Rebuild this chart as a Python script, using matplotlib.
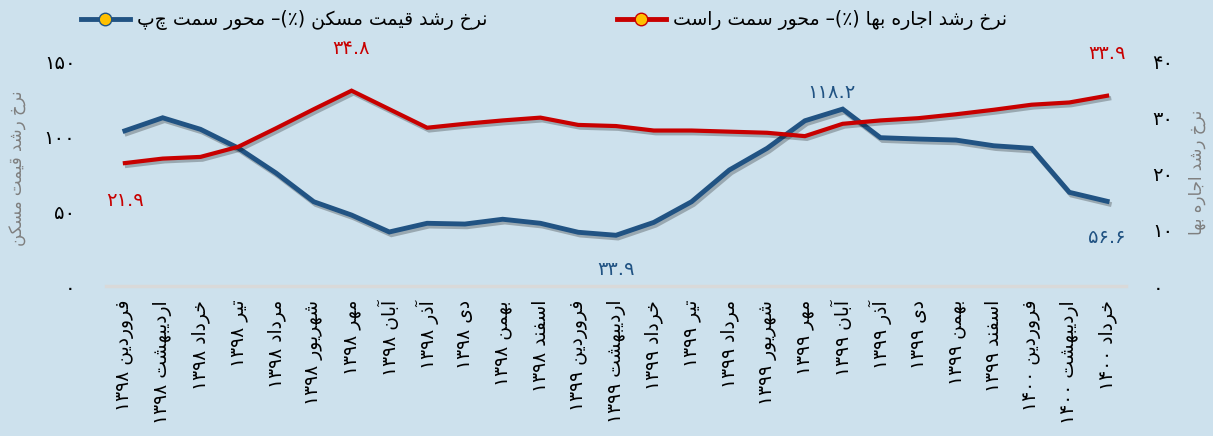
import re
import matplotlib
matplotlib.use('Agg')
import matplotlib.pyplot as plt
import matplotlib.patheffects as pe
from matplotlib.lines import Line2D

plt.rcParams['font.family'] = ['DejaVu Sans']

# داده ها
months = ['فروردین', 'اردیبهشت', 'خرداد', 'تیر', 'مرداد', 'شهریور', 'مهر', 'آبان', 'آذر',
          'دی', 'بهمن', 'اسفند']
years = [1398] * 12 + [1399] * 12 + [1400] * 3
month_idx = list(range(12)) + list(range(12)) + [0, 1, 2]

housing = [103.7, 112.4, 104.7, 92.2, 75.5, 56.3, 47.4, 36.1, 41.9, 41.4, 44.6, 41.9,
           35.9, 33.9, 42.5, 56.3, 77.5, 92.0, 110.4, 118.2, 99.1, 98.2, 97.5, 93.7,
           92.0, 62.6, 56.6]
rent = [21.9, 22.7, 23.0, 24.8, 28.1, 31.5, 34.8, 31.5, 28.2, 28.9, 29.5, 30.0,
        28.7, 28.5, 27.7, 27.7, 27.5, 27.3, 26.7, 28.9, 29.5, 29.9, 30.6, 31.4,
        32.3, 32.7, 33.9]

left_ticks = [0, 50, 100, 150]
right_ticks = [0, 10, 20, 30, 40]

legend_housing = 'نرخ رشد قیمت مسکن (٪)– محور سمت چپ'
legend_rent = 'نرخ رشد اجاره بها (٪)– محور سمت راست'
ylabel_left = 'نرخ رشد قیمت مسکن'
ylabel_right = 'نرخ رشد اجاره بها'

# شکل دادن حروف فارسی (بدون کتابخانه)
FORMS = {
    'ا': ('\uFE8D', '\uFE8E', None, None), 'آ': ('\uFE81', '\uFE82', None, None),
    'ب': ('\uFE8F', '\uFE90', '\uFE91', '\uFE92'), 'ت': ('\uFE95', '\uFE96', '\uFE97', '\uFE98'),
    'ج': ('\uFE9D', '\uFE9E', '\uFE9F', '\uFEA0'), 'ح': ('\uFEA1', '\uFEA2', '\uFEA3', '\uFEA4'),
    'خ': ('\uFEA5', '\uFEA6', '\uFEA7', '\uFEA8'), 'د': ('\uFEA9', '\uFEAA', None, None),
    'ذ': ('\uFEAB', '\uFEAC', None, None), 'ر': ('\uFEAD', '\uFEAE', None, None),
    'ز': ('\uFEAF', '\uFEB0', None, None), 'س': ('\uFEB1', '\uFEB2', '\uFEB3', '\uFEB4'),
    'ش': ('\uFEB5', '\uFEB6', '\uFEB7', '\uFEB8'), 'ف': ('\uFED1', '\uFED2', '\uFED3', '\uFED4'),
    'ق': ('\uFED5', '\uFED6', '\uFED7', '\uFED8'), 'م': ('\uFEE1', '\uFEE2', '\uFEE3', '\uFEE4'),
    'ن': ('\uFEE5', '\uFEE6', '\uFEE7', '\uFEE8'), 'ه': ('\uFEE9', '\uFEEA', '\uFEEB', '\uFEEC'),
    'و': ('\uFEED', '\uFEEE', None, None), 'ی': ('\uFBFC', '\uFBFD', '\uFBFE', '\uFBFF'),
    'ک': ('\uFB8E', '\uFB8F', '\uFB90', '\uFB91'), 'چ': ('\uFB7A', '\uFB7B', '\uFB7C', '\uFB7D'),
}
MIRROR = {'(': ')', ')': '('}
FA_DIGITS = str.maketrans('0123456789', '۰۱۲۳۴۵۶۷۸۹')


def shape(s):
    out = []
    for i, ch in enumerate(s):
        if ch not in FORMS:
            out.append(ch)
            continue
        prev = s[i - 1] if i > 0 else ''
        nxt = s[i + 1] if i + 1 < len(s) else ''
        join_prev = prev in FORMS and FORMS[prev][2] is not None
        join_next = FORMS[ch][2] is not None and nxt in FORMS
        iso, fin, ini, med = FORMS[ch]
        if join_prev and join_next:
            out.append(med)
        elif join_prev:
            out.append(fin)
        elif join_next:
            out.append(ini)
        else:
            out.append(iso)
    return ''.join(out)


def fa(s):
    s = shape(str(s).translate(FA_DIGITS))
    runs = re.findall(r'[۰-۹]+(?:\.[۰-۹]+)?|[^۰-۹]', s)
    return ''.join(MIRROR.get(r, r) for r in reversed(runs))


labels = [fa(months[m] + ' ' + str(y)) for m, y in zip(month_idx, years)]
x = list(range(len(housing)))

bg = '#cde1ed'
blue = '#215383'
red = '#c80000'

fig = plt.figure(figsize=(12.13, 4.36), dpi=100, facecolor=bg)
ax = fig.add_axes([106 / 1213, 1 - 286 / 436, 1020 / 1213, 224.5 / 436])
ax.set_facecolor(bg)
ax2 = ax.twinx()

shadow = [pe.SimpleLineShadow(offset=(1.5, -2), shadow_color='k', alpha=0.25), pe.Normal()]
ax.plot(x, housing, color=blue, lw=3.5, solid_joinstyle='miter', path_effects=shadow, zorder=3)
ax2.plot(x, rent, color=red, lw=3, solid_joinstyle='miter', path_effects=shadow, zorder=3)

ax.set_xlim(-0.5, len(x) - 0.5)
ax.set_ylim(0, 150)
ax2.set_ylim(0, 40)

ax.set_xticks(x)
ax.set_xticklabels(labels, rotation=90, va='top', ha='center', fontsize=13.5)
ax.set_yticks(left_ticks)
ax.set_yticklabels([fa(v) for v in left_ticks], fontsize=14)
ax2.set_yticks(right_ticks)
ax2.set_yticklabels([fa(v) for v in right_ticks], fontsize=14)
ax.tick_params(axis='x', length=0, pad=10)
ax.tick_params(axis='y', length=0, pad=22)
ax2.tick_params(axis='y', length=0, pad=19)

for a in (ax, ax2):
    for side in ('top', 'left', 'right', 'bottom'):
        a.spines[side].set_visible(False)
ax2.axhline(0, color='#d9d9d9', lw=2.5, zorder=1, clip_on=False)

# برچسب مقادیر
def label(axis, i, vals, dx, dy, color):
    axis.annotate(fa(vals[i]), (i, vals[i]), xytext=(dx * 0.72, dy * 0.72),
                  textcoords='offset points', ha='center', va='center',
                  fontsize=14, color=color)

label(ax2, 0, rent, 0, -37, red)
label(ax2, 6, rent, 0, 42, red)
label(ax2, 26, rent, 0, 42, red)
label(ax, 19, housing, -11, 17, blue)
label(ax, 13, housing, 0, -34, blue)
label(ax, 26, housing, 0, -36, blue)

fig.text(18 / 1213, 1 - 168 / 436, fa(ylabel_left), rotation=90, ha='center', va='center',
         fontsize=12, color='#7f7f7f')
fig.text(1197 / 1213, 1 - 172 / 436, fa(ylabel_right), rotation=90, ha='center', va='center',
         fontsize=12, color='#7f7f7f')

h1 = Line2D([], [], color=blue, lw=3.5, marker='o', markersize=9,
            markerfacecolor='#ffc000', markeredgecolor=blue)
h2 = Line2D([], [], color=red, lw=3.5, marker='o', markersize=9,
            markerfacecolor='#ffc000', markeredgecolor=red)
fig.legend([h1, h2], [fa(legend_housing), fa(legend_rent)], loc='upper left',
           bbox_to_anchor=(64 / 1213, 1.015), ncol=2, frameon=False, fontsize=13.5,
           handlelength=2.6, columnspacing=6.9, handletextpad=0.4)

fig.savefig('out.png', dpi=100, facecolor=bg)
